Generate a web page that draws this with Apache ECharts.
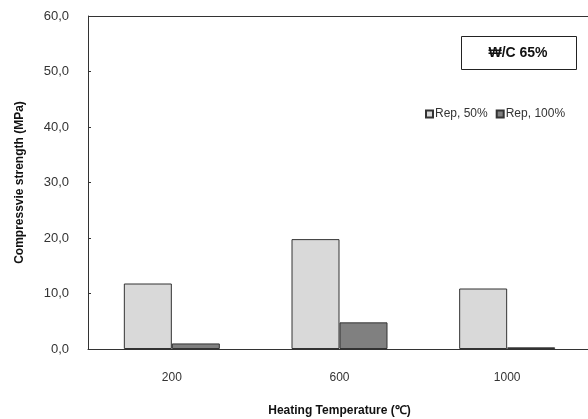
<!DOCTYPE html>
<html><head><meta charset="utf-8">
<script src="https://cdn.jsdelivr.net/npm/echarts@6/dist/echarts.min.js"></script>
<style>html,body{margin:0;padding:0;background:#fff}#c{width:588px;height:419px}</style>
</head><body><div id="c"></div>
<script>
var categories = ['200', '600', '1000'];
var rep50 = [11.8, 19.8, 10.9];
var rep100 = [1.0, 4.8, 0.3];
var seriesNames = ['Rep, 50%', 'Rep, 100%'];
var yTicks = [0, 10, 20, 30, 40, 50, 60];

var chart = echarts.init(document.getElementById('c'), null, {renderer: 'canvas'});
var font = '"Liberation Sans", Arial, sans-serif';
var boxGraphics = [
  {type: 'rect', shape: {x: 461.5, y: 36.5, width: 115, height: 33}, style: {fill: '#fff', stroke: '#222', lineWidth: 1}},
  {type: 'text', x: 518, y: 53, style: {text: '₩/C 65%', fill: '#111', font: 'bold 14px ' + font, textAlign: 'center', textVerticalAlign: 'middle'}}
];
chart.setOption({
  backgroundColor: '#fff',
  animation: false,
  textStyle: {fontFamily: font},
  grid: {left: 88, top: 16, right: -3, bottom: 70, containLabel: false, outerBoundsMode: 'none'},
  legend: {
    data: seriesNames,
    left: 420, top: 103,
    icon: 'rect', itemWidth: 7, itemHeight: 7, itemGap: 8,
    textStyle: {fontSize: 12, color: '#333', fontFamily: font, padding: [0, 0, 0, -3]}
  },
  graphic: boxGraphics,
  xAxis: {
    type: 'category', data: categories, boundaryGap: true,
    name: 'Heating Temperature (\u2103)', nameLocation: 'middle', nameGap: 56,
    nameTextStyle: {fontSize: 12, fontWeight: 'bold', color: '#111', fontFamily: font},
    axisLine: {lineStyle: {color: '#333', width: 1}},
    axisTick: {inside: true, length: 4, lineStyle: {color: '#333'}},
    axisLabel: {fontSize: 12, color: '#333', margin: 23, fontFamily: font}
  },
  yAxis: {
    type: 'value', min: yTicks[0], max: yTicks[yTicks.length - 1], interval: 10,
    name: 'Compressvie strength (MPa)', nameLocation: 'middle', nameGap: 62,
    nameTextStyle: {fontSize: 12, fontWeight: 'bold', color: '#111', fontFamily: font},
    axisLine: {show: true, lineStyle: {color: '#333', width: 1}},
    axisTick: {show: true, inside: true, length: 3, lineStyle: {color: '#333'}},
    splitLine: {show: false},
    axisLabel: {fontSize: 13, color: '#333', margin: 19, fontFamily: font,
      formatter: function (v) { return v.toFixed(1).replace('.', ','); }}
  },
  series: [
    {name: seriesNames[0], type: 'bar', data: rep50, barWidth: 48, barGap: '0%',
     itemStyle: {color: '#d9d9d9', borderColor: '#333', borderWidth: 1}},
    {name: seriesNames[1], type: 'bar', data: rep100, barWidth: 48, barGap: '0%',
     itemStyle: {color: '#808080', borderColor: '#333', borderWidth: 1}}
  ]
});
var topY = chart.convertToPixel({yAxisIndex: 0}, yTicks[yTicks.length - 1]);
chart.setOption({graphic: boxGraphics.concat([
  {type: 'line', shape: {x1: 88, y1: Math.round(topY) + 0.5, x2: 588, y2: Math.round(topY) + 0.5}, style: {stroke: '#333', lineWidth: 1}}
])});
</script></body></html>
